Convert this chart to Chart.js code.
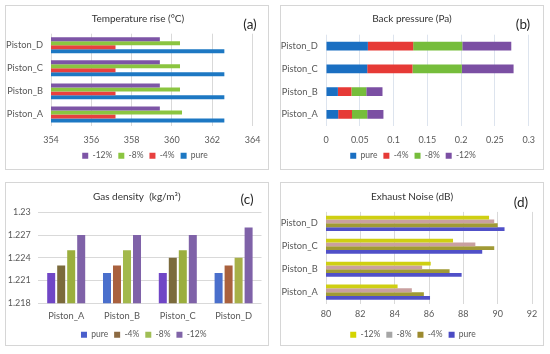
<!DOCTYPE html>
<html><head><meta charset="utf-8">
<script src="https://cdn.jsdelivr.net/npm/chart.js@4"></script>
<style>
html,body{margin:0;padding:0;background:#fff}
body{width:550px;height:354px;position:relative;overflow:hidden}
.panel{position:absolute;border:1px solid #d6d6d6;box-sizing:border-box;background:#fff}
canvas.c{position:absolute;display:block}
.tag{position:absolute;font:13.5px Lato,"Liberation Sans",sans-serif;color:#262626;transform:translate(-50%,-50%);white-space:nowrap}
</style></head>
<body>
<div class="panel" style="left:5px;top:5px;width:264px;height:165px"></div>
<div class="panel" style="left:280px;top:5px;width:264px;height:165px"></div>
<div class="panel" style="left:5px;top:182px;width:264px;height:164px"></div>
<div class="panel" style="left:280px;top:182px;width:264px;height:164px"></div>
<canvas class="c" id="ca" width="264" height="165" style="left:5px;top:5px;width:264px;height:165px"></canvas>
<canvas class="c" id="cb" width="264" height="165" style="left:280px;top:5px;width:264px;height:165px"></canvas>
<canvas class="c" id="cc" width="264" height="167" style="left:5px;top:182px;width:264px;height:167px"></canvas>
<canvas class="c" id="cd" width="264" height="167" style="left:280px;top:182px;width:264px;height:167px"></canvas>
<div class="tag" style="left:250px;top:24px">(a)</div>
<div class="tag" style="left:523px;top:24px">(b)</div>
<div class="tag" style="left:247px;top:199px">(c)</div>
<div class="tag" style="left:521px;top:202px">(d)</div>
<script>
// ---------- data (order: Piston_A, Piston_B, Piston_C, Piston_D) ----------
const pistons = ['Piston_A', 'Piston_B', 'Piston_C', 'Piston_D'];

// (a) Temperature rise (°C)
const tempPure = [362.6, 362.6, 362.6, 362.6];
const tempM4   = [357.2, 357.2, 357.2, 357.2];
const tempM8   = [360.5, 360.4, 360.4, 360.4];
const tempM12  = [359.4, 359.4, 359.4, 359.4];
const tempTicks = [354, 356, 358, 360, 362, 364];

// (b) Back pressure (Pa) - stacked segments
const bpPure = [0.018, 0.0176, 0.061, 0.062];
const bpM4   = [0.0205, 0.020, 0.067, 0.067];
const bpM8   = [0.0225, 0.022, 0.073, 0.0727];
const bpM12  = [0.024, 0.024, 0.0766, 0.0725];
const bpTicks = [0, 0.05, 0.1, 0.15, 0.2, 0.25, 0.3];

// (c) Gas density (kg/m3)
const gdPure = [1.222, 1.222, 1.222, 1.222];
const gdM4   = [1.223, 1.223, 1.224, 1.223];
const gdM8   = [1.225, 1.225, 1.225, 1.224];
const gdM12  = [1.227, 1.227, 1.227, 1.228];
const gdTicks = [1.218, 1.221, 1.224, 1.227, 1.23];

// (d) Exhaust Noise (dB)
const nzPure = [86.06, 87.9, 89.1, 90.4];
const nzM4   = [85.7, 87.2, 89.8, 90.0];
const nzM8   = [85.0, 85.6, 88.7, 89.8];
const nzM12  = [84.17, 86.1, 87.4, 89.5];
const nzTicks = [80, 82, 84, 86, 88, 90, 92];

// let tick labels overflow their axis box (labels are placed with layout padding)
if (Chart.Scale && Chart.Scale.prototype._computeLabelArea) {
  Chart.Scale.prototype._computeLabelArea = function () { return undefined; };
}
// small horizontal nudge for the legend block
const legendShift = {
  id: 'legendShift',
  afterLayout(chart, args, opts) {
    const dx = (opts && opts.dx) || 0;
    if (chart.legend && dx) { chart.legend.left += dx; chart.legend.right += dx; }
  }
};

// ---------- helpers ----------
const FONT = 'Lato, "Liberation Sans", sans-serif';
const TICK = '#595959';
const rev = a => a.slice().reverse();
const topDown = rev(pistons);
const f9 = {family: FONT, size: 9};
const tickSet = arr => (s => { s.ticks = arr.map(v => ({value: v})); });

function titleOpt(text, pt, pb) {
  return {display: true, text, color: '#333', font: {family: FONT, size: 10, weight: 'normal'},
          padding: {top: pt, bottom: pb}};
}
function legendOpt(colors) {
  return {position: 'bottom',
    labels: {boxWidth: 6, boxHeight: 6, padding: 6, font: {family: FONT, size: 8.5}, color: TICK,
      generateLabels: chart => {
        const items = Chart.defaults.plugins.legend.labels.generateLabels(chart);
        if (colors) items.forEach((it, i) => { it.fillStyle = colors[i]; it.strokeStyle = colors[i]; });
        items.forEach(it => { it.lineWidth = 0; });
        return items;
      }}};
}
function valueAxis(min, max, ticks, gridColor, pad, h) {
  return {min, max, afterBuildTicks: tickSet(ticks),
    ticks: {font: f9, color: TICK, padding: pad, callback: v => String(+(+v).toFixed(3))},
    grid: {color: gridColor, drawTicks: false, lineWidth: 1},
    border: {display: false}, afterFit: s => { s.height = h; }};
}
function catAxisY(w, pad) {
  return {grid: {display: false, drawTicks: false}, border: {display: false},
    ticks: {font: {family: FONT, size: 9.3}, color: TICK, padding: pad}, afterFit: s => { s.width = w; }};
}

// ---------- (a) ----------
new Chart(document.getElementById('ca'), {
  type: 'bar',
  plugins: [legendShift],
  data: {labels: topDown, datasets: [
    {label: '-12%', data: rev(tempM12), backgroundColor: '#7D55A6'},
    {label: '-8%',  data: rev(tempM8),  backgroundColor: '#8BC540'},
    {label: '-4%',  data: rev(tempM4),  backgroundColor: '#E8403F'},
    {label: 'pure', data: rev(tempPure), backgroundColor: '#1D78C3'}
  ]},
  options: {
    indexAxis: 'y', responsive: false, animation: false,
    layout: {padding: {left: 16, right: 14, top: 0, bottom: 0}},
    datasets: {bar: {categoryPercentage: 0.69, barPercentage: 1}},
    plugins: {title: titleOpt('Temperature rise (°C)', 8, 8.7), legend: legendOpt(), tooltip: {enabled: false},
              legendShift: {dx: 7}},
    scales: {
      x: valueAxis(354, 364, tempTicks, '#d9d9d9', 8.6, 19.5),
      y: catAxisY(30, 8)
    }
  }
});

// ---------- (b) ----------
new Chart(document.getElementById('cb'), {
  type: 'bar',
  plugins: [legendShift],
  data: {labels: topDown, datasets: [
    {label: 'pure', data: rev(bpPure), backgroundColor: '#1A6FC2'},
    {label: '-4%',  data: rev(bpM4),  backgroundColor: '#E63A36'},
    {label: '-8%',  data: rev(bpM8),  backgroundColor: '#76BD3B'},
    {label: '-12%', data: rev(bpM12), backgroundColor: '#7B4FA3'}
  ]},
  options: {
    indexAxis: 'y', responsive: false, animation: false,
    layout: {padding: {left: 13, right: 13, top: 0, bottom: 0}},
    datasets: {bar: {categoryPercentage: 0.39, barPercentage: 1}},
    plugins: {title: titleOpt('Back pressure (Pa)', 8, 9.7), legend: legendOpt(), tooltip: {enabled: false},
              legendShift: {dx: 1}},
    scales: {
      x: Object.assign(valueAxis(0, 0.3, bpTicks, '#dde4ee', 9, 19.7), {stacked: true}),
      y: Object.assign(catAxisY(33, 8.3), {stacked: true})
    }
  }
});

// ---------- (c) ----------
new Chart(document.getElementById('cc'), {
  type: 'bar',
  plugins: [legendShift],
  data: {labels: pistons, datasets: [
    {label: 'pure', data: gdPure, backgroundColor: ['#7046C6', '#4A6FCC', '#7046C6', '#4A6FCC']},
    {label: '-4%',  data: gdM4,  backgroundColor: ['#7B6B3C', '#A9613E', '#7B6B3C', '#A9613E']},
    {label: '-8%',  data: gdM8,  backgroundColor: ['#9BAE3E', '#A3B94C', '#9BAE3E', '#A8B048']},
    {label: '-12%', data: gdM12, backgroundColor: '#7F62A8'}
  ]},
  options: {
    responsive: false, animation: false,
    layout: {padding: {left: 7, right: 7.5, top: 0, bottom: 0}},
    datasets: {bar: {categoryPercentage: 0.717, barPercentage: 0.8}},
    plugins: {title: titleOpt('Gas density  (kg/m³)', 9, 9.3),
              legend: legendOpt(['#4A5FCC', '#8C6A42', '#A0BE55', '#8064A8']), tooltip: {enabled: false},
              legendShift: {dx: 7}},
    scales: {
      x: {grid: {display: false, drawTicks: false}, border: {display: false},
          ticks: {font: {family: FONT, size: 9.3}, color: TICK, padding: 6.9}, afterFit: s => { s.height = 21.2; }},
      y: {min: 1.218, max: 1.23, afterBuildTicks: tickSet(gdTicks),
          ticks: {font: f9, color: TICK, padding: 7.6, callback: v => String(+(+v).toFixed(3))},
          grid: {color: '#d9d9d9', drawTicks: false}, border: {display: false},
          afterFit: s => { s.width = 26.3; }}
    }
  }
});

// ---------- (d) ----------
new Chart(document.getElementById('cd'), {
  type: 'bar',
  plugins: [legendShift],
  data: {labels: topDown, datasets: [
    {label: '-12%', data: rev(nzM12), backgroundColor: '#CFCF12'},
    {label: '-8%',  data: rev(nzM8),  backgroundColor: '#C9A0A0'},
    {label: '-4%',  data: rev(nzM4),  backgroundColor: '#A09A35'},
    {label: 'pure', data: rev(nzPure), backgroundColor: '#5050C8'}
  ]},
  options: {
    indexAxis: 'y', responsive: false, animation: false,
    layout: {padding: {left: 12, right: 12, top: 0, bottom: 0}},
    datasets: {bar: {categoryPercentage: 0.66, barPercentage: 1}},
    plugins: {title: titleOpt('Exhaust Noise (dB)', 9, 8.9),
              legend: legendOpt(['#D4D400', '#A6A6A6', '#9C8A2E', '#4B4BC4']), tooltip: {enabled: false},
              legendShift: {dx: 1}},
    scales: {
      x: valueAxis(80, 92, nzTicks, '#d9d9d9', 5.5, 20.9),
      y: catAxisY(34, 8.3)
    }
  }
});
</script>
</body></html>
